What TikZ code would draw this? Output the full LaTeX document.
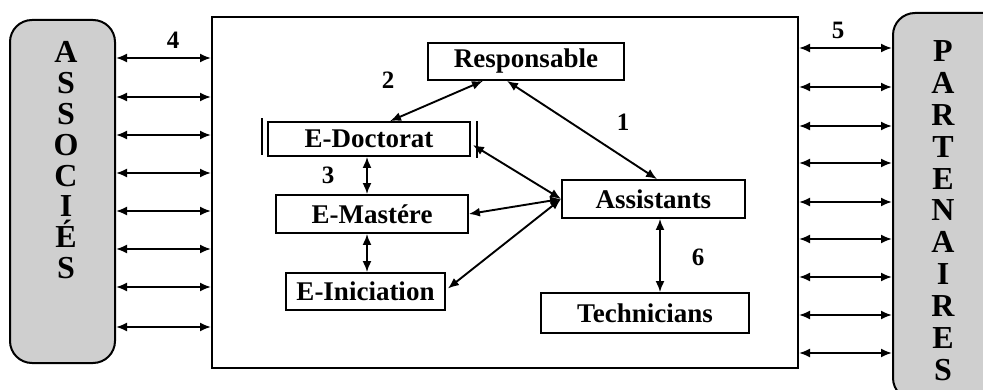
\documentclass[tikz,border=0pt]{standalone}
\usepackage{fontspec}
\setmainfont{Liberation Serif}
\usetikzlibrary{arrows.meta}
\tikzset{
  box/.style={draw, line width=1.8pt, fill=white, inner sep=0pt, font=\fontsize{27}{30}\selectfont\bfseries},
  link/.style={line width=1.9pt, {Latex[length=11pt,width=9pt]}-{Latex[length=11pt,width=9pt]}},
  num/.style={font=\fontsize{25}{28}\selectfont\bfseries, inner sep=0pt},
  side/.style={draw, line width=2pt, rounded corners=22pt, fill=gray!38, inner sep=0pt},
  letter/.style={font=\fontsize{32}{32}\selectfont\bfseries, inner sep=0pt, text height=21pt, text depth=0pt},
}
\begin{document}
\begin{tikzpicture}[x=1pt,y=-1pt]
\useasboundingbox (0,0) rectangle (983,390);
\begin{scope}
\clip (0,0) rectangle (983,390);
% side boxes
\node[side, minimum width=105pt, minimum height=343pt] (assoc) at (62.5,191.5) {};
\node[side, minimum width=117pt, minimum height=387pt] (parten) at (951.5,206.5) {};
\end{scope}
% letters
\foreach \l [count=\i from 0] in {A,S,S,O,C,I,É,S}
  \node[letter] (as\i) at (66,52+30.9*\i) {\l};
\foreach \l [count=\i from 0] in {P,A,R,T,E,N,A,I,R,E,S}
  \node[letter] (pa\i) at (943,51+31.9*\i) {\l};
% main frame
\node[draw, line width=2pt, minimum width=586pt, minimum height=351pt, inner sep=0pt] (main) at (505,192.5) {};
% side connectors
\foreach \y [count=\i] in {58,97,135,173,211,249,287,327}{
  \coordinate (ly\i) at (0,\y);
  \draw[link] (assoc.east |- ly\i) -- (main.west |- ly\i);
}
\foreach \y [count=\i] in {48,87,126,163,202,239,277,315,353}{
  \coordinate (ry\i) at (0,\y);
  \draw[link] (main.east |- ry\i) -- (parten.west |- ry\i);
}
% inner boxes
\node[box, minimum width=196pt, minimum height=37pt] (resp) at (526,61.5) {Responsable};
\node[box, minimum width=202pt, minimum height=34pt] (doc) at (369,139) {E-Doctorat};
\node[box, minimum width=192pt, minimum height=38pt] (mast) at (372,214) {E-Mastére};
\node[box, minimum width=159pt, minimum height=37pt] (inic) at (365.5,291.5) {E-Iniciation};
\node[box, minimum width=183pt, minimum height=38pt] (assist) at (653.5,199) {Assistants};
\node[box, minimum width=208pt, minimum height=40pt] (tech) at (645,313) {Technicians};
% extra bars of E-Doctorat
\draw[line width=1.8pt] ([xshift=-5pt,yshift=3pt]doc.north west) -- ([xshift=-5pt,yshift=2pt]doc.south west);
\draw[line width=1.8pt] ([xshift=6pt]doc.north east) -- ([xshift=6pt,yshift=-1pt]doc.south east);
% helper x positions
\coordinate (x483) at (483,0);
\coordinate (x390) at (390,0);
\coordinate (x507) at (507,0);
\coordinate (x657) at (657,0);
\coordinate (x367) at (367,0);
\coordinate (x660) at (660,0);
\coordinate (y145) at (0,145);
% inner connectors
\draw[link] (resp.south -| x483) -- (doc.north -| x390);
\draw[link] (resp.south -| x507) -- (assist.north -| x657);
\draw[link] (doc.south -| x367) -- (mast.north -| x367);
\draw[link] (mast.south -| x367) -- (inic.north -| x367);
\draw[link] (assist.south -| x660) -- (tech.north -| x660);
\draw[link] (assist.west) -- ([xshift=2pt]doc.east |- y145);
\draw[link] (assist.west) -- (mast.east);
\draw[link] (assist.west) -- ([xshift=2pt,yshift=3pt]inic.east);
% labels
\node[num] (n4) at (173,40) {4};
\node[num] (n5) at (838,30) {5};
\node[num] (n2) at (388,80) {2};
\node[num] (n1) at (623,122) {1};
\node[num] (n3) at (328,175) {3};
\node[num] (n6) at (698,257) {6};
\end{tikzpicture}
\end{document}
